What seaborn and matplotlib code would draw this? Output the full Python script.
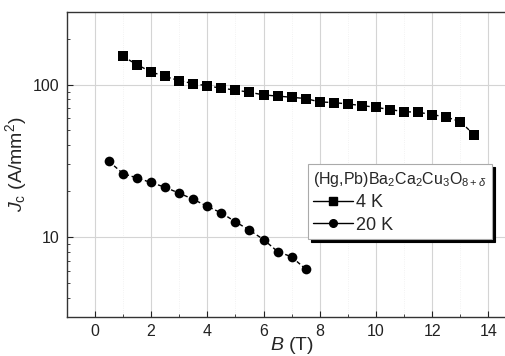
import matplotlib
matplotlib.use("Agg")
import matplotlib.pyplot as plt
import matplotlib.ticker as mticker
from matplotlib.lines import Line2D
import seaborn as sns
import pandas as pd

# 4 K data (squares)
b_4k = [1, 1.5, 2, 2.5, 3, 3.5, 4, 4.5, 5, 5.5, 6, 6.5, 7, 7.5, 8, 8.5, 9,
        9.5, 10, 10.5, 11, 11.5, 12, 12.5, 13, 13.5]
jc_4k = [153, 135, 121, 113, 106, 101.5, 98, 94.6, 92, 89, 85.5, 84, 82.5,
         80.9, 76.9, 76.2, 74.5, 72.8, 70.9, 68.5, 66.4, 65.8, 63.5, 61.2,
         57.1, 46.6]

# 20 K data (circles)
b_20k = [0.5, 1, 1.5, 2, 2.5, 3, 3.5, 4, 4.5, 5, 5.5, 6, 6.5, 7, 7.5]
jc_20k = [31.4, 26.1, 24.4, 22.8, 21.2, 19.4, 17.7, 15.9, 14.4, 12.6, 11.1,
          9.64, 8.04, 7.42, 6.16]

series_labels = ["4 K", "20 K"]
legend_title = r"(Hg,Pb)Ba$_2$Ca$_2$Cu$_3$O$_{8+\delta}$"

df = pd.concat([
    pd.DataFrame({"B": b_4k, "Jc": jc_4k, "T": series_labels[0]}),
    pd.DataFrame({"B": b_20k, "Jc": jc_20k, "T": series_labels[1]}),
])

sns.set_theme(style="ticks")
plt.rcParams['font.family'] = ['Liberation Sans', 'DejaVu Sans']
plt.rcParams['mathtext.fontset'] = 'custom'
plt.rcParams['mathtext.rm'] = 'Liberation Sans'
plt.rcParams['mathtext.it'] = 'Liberation Sans:italic'

fig = plt.figure(figsize=(5.05, 3.56), dpi=100)
ax = fig.add_axes([0.132, 0.110, 0.891, 0.857])

sns.lineplot(data=df, x="B", y="Jc", hue="T", style="T",
             markers={"4 K": "s", "20 K": "o"},
             dashes={"4 K": (3, 2), "20 K": (3, 2)},
             palette={"4 K": "black", "20 K": "black"},
             markersize=7, markeredgewidth=0, linewidth=1,
             legend=False, ax=ax)

ax.set_yscale("log")
ax.set_xlim(-1, 15)
ax.set_ylim(3, 300)
ax.xaxis.set_major_locator(mticker.MultipleLocator(2))
ax.xaxis.set_minor_locator(mticker.MultipleLocator(1))
ax.yaxis.set_major_formatter(mticker.FuncFormatter(lambda v, p: f"{v:g}"))
ax.yaxis.set_minor_formatter(mticker.NullFormatter())

ax.grid(True, which="major", color="#d4d4d4", linewidth=0.8)
ax.grid(True, which="minor", axis="x", color="#eeeeee", linewidth=0.6, linestyle=":")
ax.set_axisbelow(True)

for s in ax.spines.values():
    s.set_color("#333333")
    s.set_linewidth(1.0)

ax.tick_params(axis="both", which="major", direction="in", length=4, width=0.8,
               labelsize=11.5, colors="#222222", pad=5)
ax.tick_params(axis="both", which="minor", direction="in", length=2.5, width=0.6)

ax.set_xlabel(r"$B$ (T)", fontsize=14, labelpad=-3)
ax.set_ylabel(r"$J_{\rm c}$ (A/mm$^2$)", fontsize=14, labelpad=3)

handles = [
    Line2D([], [], color="black", marker="s", markersize=5.5, linewidth=1),
    Line2D([], [], color="black", marker="o", markersize=5.5, linewidth=1),
]
leg = ax.legend(handles, series_labels, title=legend_title, loc="upper left",
                bbox_to_anchor=(0.536, 0.50), borderaxespad=0, frameon=True,
                fancybox=False, shadow={"color": "black", "alpha": 1},
                fontsize=13, title_fontsize=11.5, handlelength=2.2,
                handletextpad=0.15, labelspacing=0.3, borderpad=0.3,
                alignment="left")
leg.get_frame().set_edgecolor("#aaaaaa")
leg.get_frame().set_linewidth(0.8)

fig.savefig("out.png", dpi=100)
